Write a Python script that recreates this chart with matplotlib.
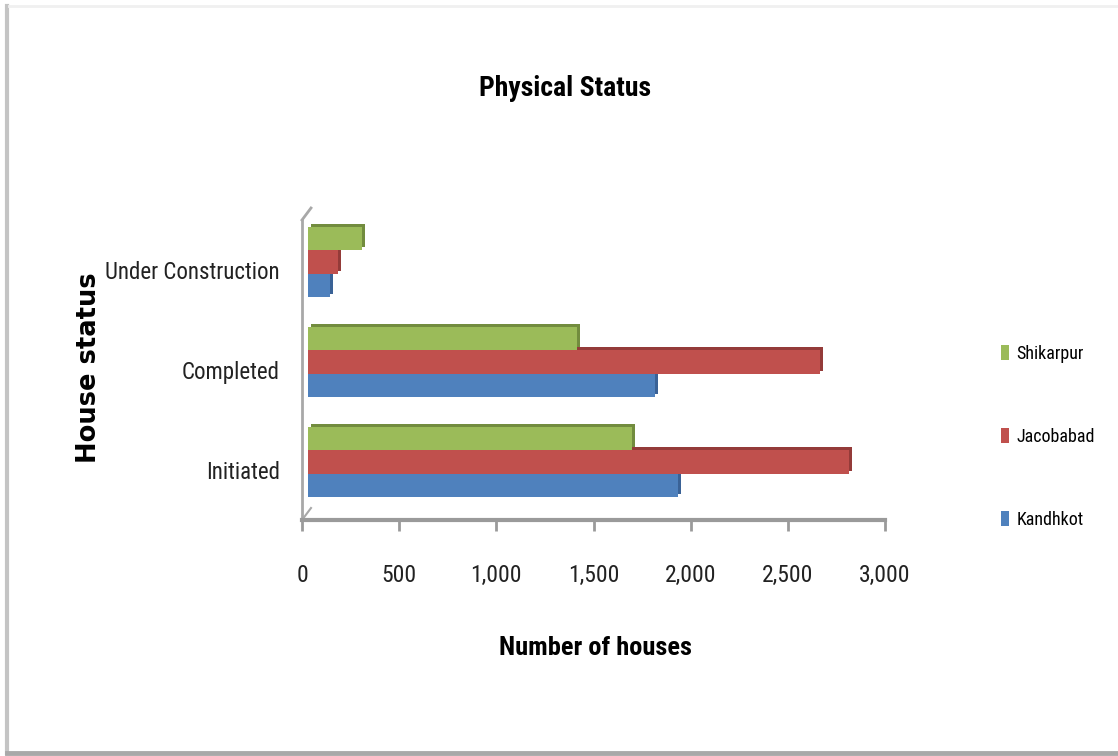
import matplotlib
matplotlib.use("Agg")
import os
import matplotlib.pyplot as plt
import matplotlib.transforms as mtransforms
from matplotlib.lines import Line2D
from matplotlib import font_manager
import numpy as np

# ---------------- data ----------------
categories = ["Initiated", "Completed", "Under Construction"]
series_names = ["Kandhkot", "Jacobabad", "Shikarpur"]
kandhkot = [1905, 1785, 115]
jacobabad = [2785, 2635, 155]
shikarpur = [1665, 1385, 280]
xticks = [0, 500, 1000, 1500, 2000, 2500, 3000]
xtick_labels = ["0", "500", "1,000", "1,500", "2,000", "2,500", "3,000"]

colors = ["#4F81BD", "#C0504D", "#9BBB59"]
dark = ["#3A6296", "#943B39", "#728C3E"]

# ---------------- fonts: look for a condensed sans ----------------
files = {os.path.basename(f.fname): f.fname for f in font_manager.fontManager.ttflist}
def find(names):
    for n in names:
        if n in files:
            return files[n]
    return None
reg_file = find(["LiberationSansNarrow-Regular.ttf", "RobotoCondensed-Regular.ttf",
                 "DejaVuSansCondensed.ttf", "OpenSans_Condensed-Regular.ttf",
                 "OpenSansCondensed-Regular.ttf"])
bold_file = find(["LiberationSansNarrow-Bold.ttf", "RobotoCondensed-Bold.ttf",
                  "DejaVuSansCondensed-Bold.ttf", "OpenSans_Condensed-Bold.ttf",
                  "OpenSansCondensed-Bold.ttf"])
if reg_file:
    REG = dict(fontproperties=font_manager.FontProperties(fname=reg_file))
    scale = 1.0
else:
    REG = dict(family=["Liberation Sans", "DejaVu Sans"])
    scale = 0.82
if bold_file:
    BOLD = dict(fontproperties=font_manager.FontProperties(fname=bold_file))
    bscale = 1.0
else:
    BOLD = dict(family=["Liberation Sans", "DejaVu Sans"], fontweight="bold")
    bscale = 0.85

def fp(base, size):
    if "fontproperties" in base:
        p = base["fontproperties"].copy()
        p.set_size(size)
        return dict(fontproperties=p)
    d = dict(base)
    d["fontsize"] = size
    return d

W, H = 1118, 756
fig = plt.figure(figsize=(W / 100, H / 100), dpi=100)

# frame around chart (shadowed border)
fig.add_artist(Line2D([7 / W, 7 / W], [3 / H, 1 - 6 / H], transform=fig.transFigure,
                      color="#c4c4c4", lw=3))
fig.add_artist(Line2D([7 / W, 1], [3 / H, 3 / H], transform=fig.transFigure,
                      color="#a9a9a9", lw=3.5))
fig.add_artist(Line2D([9 / W, 1], [1 - 6 / H, 1 - 6 / H], transform=fig.transFigure,
                      color="#f0f0f0", lw=2))

ax_left, ax_right = 302, 885
ax_top, ax_bottom = 220, 520
ax = fig.add_axes([ax_left / W, 1 - ax_bottom / H, (ax_right - ax_left) / W,
                   (ax_bottom - ax_top) / H])

y = np.arange(len(categories))
bh = 0.235
offsets = [-bh, 0.0, bh]
values = [kandhkot, jacobabad, shikarpur]

back = mtransforms.offset_copy(ax.transData, fig=fig, x=6, y=8, units="dots")
depth = mtransforms.offset_copy(ax.transData, fig=fig, x=9, y=11, units="dots")

for vals, off, c, d, name in zip(values, offsets, colors, dark, series_names):
    side = ax.barh(y + off, vals, height=bh, color=d, edgecolor="none", zorder=2)
    for p in side:
        p.set_transform(depth)
    bars = ax.barh(y + off, vals, height=bh, color=c, edgecolor="none", zorder=3,
                   label=name)
    for p in bars:
        p.set_transform(back)

ax.set_xlim(0, 3000)
ax.set_ylim(-0.5, 2.5)
ax.set_xticks(xticks)
ax.set_xticklabels(xtick_labels, **fp(REG, 17 * scale), color="#222222")
ax.set_yticks(y)
ax.set_yticklabels(categories, **fp(REG, 16.5 * scale), color="#222222")

for s in ["top", "right"]:
    ax.spines[s].set_visible(False)
ax.spines["bottom"].set_color("#9a9a9a")
ax.spines["bottom"].set_linewidth(3)
ax.spines["left"].set_color("#a8a8a8")
ax.spines["left"].set_linewidth(2)
ax.add_line(Line2D([0, 9 / 583], [1, 1 + 12 / 300], transform=ax.transAxes,
                   color="#a8a8a8", lw=2, clip_on=False))
ax.add_line(Line2D([0, 9 / 583], [0, 12 / 300], transform=ax.transAxes,
                   color="#a8a8a8", lw=1.5, clip_on=False))

ax.tick_params(axis="x", direction="out", length=8, width=2, color="#9a9a9a", pad=24)
ax.tick_params(axis="y", length=0, pad=16)

ax.set_xlabel("Number of houses", **fp(BOLD, 19 * bscale))
ax.xaxis.set_label_coords(0.503, -0.427)
ax.xaxis.label.set_va("center")

ax.set_ylabel("House status", fontsize=18.5, fontweight="bold", family=["DejaVu Sans"])
ax.yaxis.set_label_coords(-0.365, 0.507)
ax.yaxis.label.set_va("center")

ax.set_title("Physical Status", x=0.451, y=1.41, va="center", **fp(BOLD, 20 * bscale))

handles, labels = ax.get_legend_handles_labels()
leg_prop = fp(REG, 13 * scale)
leg_prop = leg_prop.get("fontproperties",
                        font_manager.FontProperties(family=["Liberation Sans", "DejaVu Sans"],
                                                    size=13 * scale))
leg = fig.legend(handles[::-1], labels[::-1], loc="center left",
                 bbox_to_anchor=(985 / W, 1 - 437 / H), frameon=False,
                 prop=leg_prop, handlelength=0.45, handleheight=0.9,
                 handletextpad=0.4, labelspacing=3.6)

fig.savefig("out.png", dpi=100, facecolor="white")
